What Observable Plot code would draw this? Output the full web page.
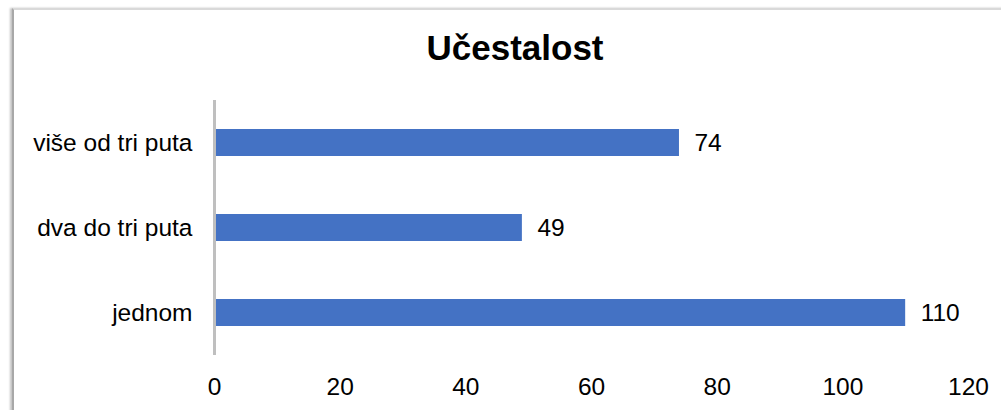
<!DOCTYPE html>
<html>
<head>
<meta charset="utf-8">
<script src="https://cdn.jsdelivr.net/npm/d3@7"></script>
<script src="https://cdn.jsdelivr.net/npm/@observablehq/plot@0.6"></script>
<style>
  html, body { margin: 0; padding: 0; background: #fff; }
  body { width: 1001px; height: 410px; position: relative; overflow: hidden; font-family: "Liberation Sans", Arial, sans-serif; }
  #frame { position: absolute; left: 12px; top: 8px; width: 1100px; height: 500px;
           border-top: 2px solid #d9d9d9; border-left: 2px solid #a8a8a8;
           box-shadow: -2px 0 2px #c4c4c4; }
  #title { position: absolute; left: 0; width: 1030px; top: 28px; text-align: center;
           font-size: 35px; font-weight: bold; color: #000; line-height: 40px; }
  #chart { position: absolute; left: 0; top: 80px; }
</style>
</head>
<body>
<div id="frame"></div>
<div id="title">Učestalost</div>
<div id="chart"></div>
<script>
const categories = ["više od tri puta", "dva do tri puta", "jednom"];
const values = [74, 49, 110];
const xTicks = [0, 20, 40, 60, 80, 100, 120];

const data = categories.map((c, i) => ({ category: c, value: values[i] }));

const chart = Plot.plot({
  width: 1001,
  height: 330,
  marginTop: 20,
  marginBottom: 55,
  marginLeft: 214,
  marginRight: 33,
  style: { fontFamily: "'Liberation Sans', Arial, sans-serif", fontSize: "24.5px", color: "#000", background: "transparent" },
  x: { domain: [0, 120], ticks: xTicks, tickSize: 0, tickPadding: 22, label: null },
  y: { domain: categories, paddingInner: 0.68, paddingOuter: 0.34, tickSize: 0, tickPadding: 22, label: null },
  marks: [
    Plot.barX(data, { x: "value", y: "category", fill: "#4472C4" }),
    Plot.ruleX([0], { stroke: "#bfbfbf", strokeWidth: 3 }),
    Plot.text(data, { x: "value", y: "category", text: d => String(d.value), textAnchor: "start", dx: 15, fontSize: 24.5, fill: "#000" })
  ]
});
document.getElementById("chart").appendChild(chart);
</script>
</body>
</html>
